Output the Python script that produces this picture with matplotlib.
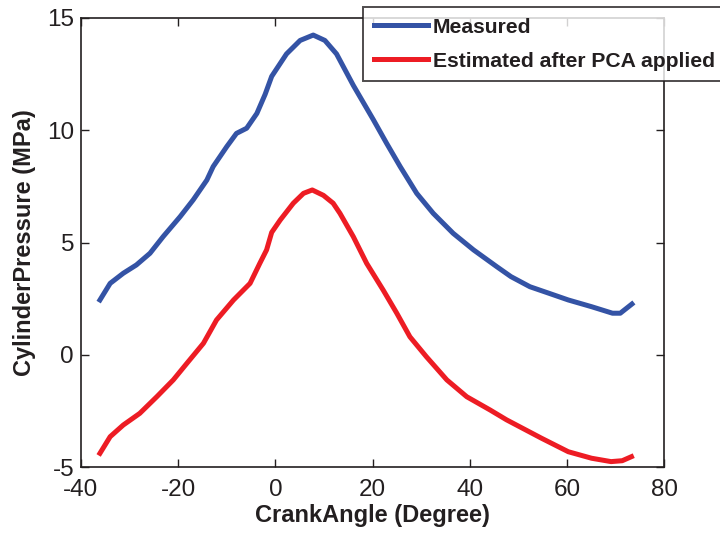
import matplotlib
matplotlib.use("Agg")
import matplotlib.pyplot as plt

# measured cylinder pressure (MPa) vs crank angle (deg)
measAngle = [-36.1, -34.0, -31.3, -28.6, -25.8, -23.1, -19.6, -16.9, -14.1, -12.8, -10, -8, -5.9,
             -3.8, -2.1, -0.75, 2.3, 5.1, 7.8, 10.2, 12.6, 16.05, 20.2, 22.9, 25.7, 29.1, 32.5,
             36.6, 40.8, 45.6, 48.5, 52.4, 56.3, 60.3, 65.1, 69.4, 71, 73.4]
measPress = [2.44, 3.18, 3.63, 4.0, 4.52, 5.26, 6.15, 6.9, 7.78, 8.38, 9.27, 9.86, 10.09,
             10.75, 11.6, 12.4, 13.4, 14.0, 14.24, 14.0, 13.4, 12.0, 10.46, 9.42, 8.38, 7.19, 6.3,
             5.41, 4.67, 3.92, 3.48, 3.03, 2.74, 2.44, 2.14, 1.85, 1.85, 2.26]

# estimated pressure after PCA
estAngle = [-36.1, -34.0, -31.3, -27.9, -24.4, -21.0, -18.2, -14.8, -12.1, -8.6, -5.2, -3.2,
            -1.8, -0.75, 1.0, 3.7, 5.8, 7.6, 9.9, 11.9, 13.3, 16.05, 18.8, 22.2, 25, 27.7,
            31.1, 35.3, 39.4, 44.2, 47.6, 54.8, 60.3, 65.1, 69.1, 71.4, 73.3]
estPress = [-4.39, -3.65, -3.13, -2.61, -1.87, -1.12, -0.38, 0.51, 1.55, 2.44, 3.18, 4.07,
            4.67, 5.45, 6.0, 6.75, 7.19, 7.34, 7.1, 6.75, 6.3, 5.26, 4.07, 2.88, 1.85, 0.8,
            -0.09, -1.12, -1.87, -2.46, -2.9, -3.72, -4.32, -4.61, -4.76, -4.72, -4.54]

xTicks = [-40, -20, 0, 20, 40, 60, 80]
yTicks = [-5, 0, 5, 10, 15]

textColor = "#231f20"
plt.rcParams["font.family"] = "Liberation Sans"
plt.rcParams["axes.unicode_minus"] = False

fig = plt.figure(figsize=(7.2, 5.33), dpi=100)
ax = fig.add_axes([81 / 720, 66 / 533, 583 / 720, 449 / 533])

ax.plot(measAngle, measPress, color="#3453a5", lw=3.6, label="Measured")
ax.plot(estAngle, estPress, color="#ed1c24", lw=3.6, label="Estimated after PCA applied")

ax.set_xlim(-40, 80)
ax.set_ylim(-5, 15)
ax.set_xticks(xTicks)
ax.set_yticks(yTicks)
ax.tick_params(direction="in", top=True, right=True, length=6, width=1,
               labelsize=17.5, colors=textColor, labelcolor=textColor)
ax.tick_params(axis="x", pad=9)
ax.tick_params(axis="y", pad=5)
for sp in ax.spines.values():
    sp.set_linewidth(1.2)
    sp.set_color(textColor)

ax.set_xlabel("CrankAngle (Degree)", fontsize=17, fontweight="bold", color=textColor, labelpad=2)
ax.set_ylabel("CylinderPressure (MPa)", fontsize=17, fontweight="bold", color=textColor, labelpad=8)

# legend sits over the top right corner and runs off the figure
lgd = ax.legend(loc="upper left", bbox_to_anchor=(363 / 720, 1 - 7 / 533),
                bbox_transform=fig.transFigure, borderaxespad=0, fancybox=False,
                prop={"size": 15.2, "weight": "bold"}, handlelength=2.6,
                handletextpad=0.2, borderpad=0.5, labelspacing=0.72)
lgd.get_frame().set_edgecolor(textColor)
lgd.get_frame().set_linewidth(1.4)
for t in lgd.get_texts():
    t.set_color(textColor)

fig.savefig("out.png", dpi=100)
